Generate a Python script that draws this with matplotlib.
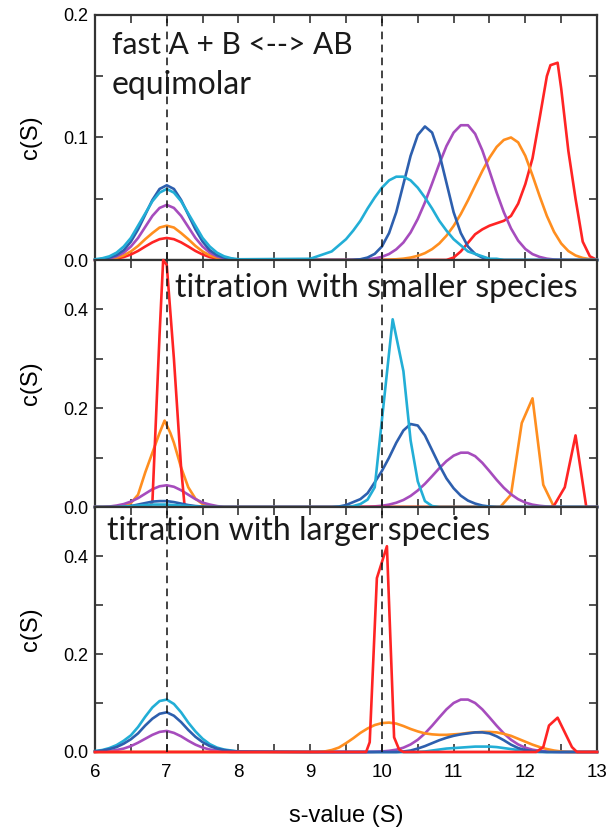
"""c(S) distributions: fast A + B <--> AB, equimolar and titration series."""

import matplotlib.pyplot as plt
from matplotlib.ticker import FormatStrFormatter, MultipleLocator

OUT_PATH = "out.png"

# s-value sampling (S)
S_LEFT = [6.0, 6.1, 6.2, 6.3, 6.4, 6.5, 6.6, 6.7, 6.8, 6.9, 7.0,
          7.1, 7.2, 7.3, 7.4, 7.5, 7.6, 7.7, 7.8, 7.9, 8.0]
S_RIGHT = [9.0, 9.1, 9.2, 9.3, 9.4, 9.5, 9.6, 9.7, 9.8, 9.9, 10.0,
           10.1, 10.2, 10.3, 10.4, 10.5, 10.6, 10.7, 10.8, 10.9, 11.0,
           11.1, 11.2, 11.3, 11.4, 11.5, 11.6, 11.7, 11.8, 11.9, 12.0,
           12.1, 12.2, 12.3, 12.4, 12.5, 12.6, 12.7, 12.8, 12.9, 13.0]

# --- panel 1: equimolar -------------------------------------------------
EQ_RED_LEFT = [0, 0.0002, 0.0005, 0.0012, 0.0024, 0.0045, 0.0074, 0.011, 0.0144, 0.017, 0.018,
               0.017, 0.0144, 0.011, 0.0074, 0.0045, 0.0024, 0.0012, 0.0005, 0.0002, 0]
EQ_RED_PEAK_S = [10.9, 11.0, 11.1, 11.2, 11.3, 11.4, 11.5, 11.6, 11.7, 11.8, 11.9, 12.0,
                 12.1, 12.2, 12.3, 12.35, 12.45, 12.5, 12.6, 12.7, 12.8, 12.9, 13.0]
EQ_RED_PEAK_C = [0, 0.002, 0.007, 0.014, 0.021, 0.025, 0.028, 0.030, 0.032, 0.036, 0.046, 0.062,
                 0.083, 0.116, 0.150, 0.159, 0.161, 0.140, 0.089, 0.050, 0.015, 0.003, 0]

EQ_ORANGE_LEFT = [0, 0.0003, 0.0008, 0.0018, 0.0038, 0.007, 0.0115, 0.017, 0.022, 0.0265, 0.028,
                  0.0265, 0.022, 0.017, 0.0115, 0.007, 0.0038, 0.0018, 0.0008, 0.0003, 0]
EQ_ORANGE_RIGHT = [0, 0, 0, 0, 0, 0, 0, 0, 0, 0, 0,
                   0.0003, 0.0006, 0.0011, 0.002, 0.0034, 0.0056, 0.0089, 0.0135, 0.0198, 0.0278,
                   0.0375, 0.0487, 0.0607, 0.0726, 0.0835, 0.0923, 0.098, 0.100, 0.096, 0.085,
                   0.069, 0.052, 0.036, 0.023, 0.0135, 0.0073, 0.0037, 0.0017, 0.0007, 0]

EQ_PURPLE_LEFT = [0, 0.0005, 0.0013, 0.003, 0.006, 0.011, 0.018, 0.027, 0.036, 0.0425, 0.045,
                  0.0425, 0.036, 0.027, 0.018, 0.011, 0.006, 0.003, 0.0013, 0.0005, 0]
AB_PURPLE_RIGHT = [0, 0, 0, 0, 0, 0, 0,
                   0.0003, 0.0006, 0.0013, 0.0026, 0.0049, 0.0087, 0.0143, 0.0225, 0.0335, 0.047,
                   0.0625, 0.0785, 0.093, 0.104, 0.110, 0.110, 0.103, 0.0895, 0.0726, 0.055,
                   0.039, 0.0258, 0.0158, 0.009, 0.0048, 0.0025, 0.0011, 0.0004, 0.0001, 0,
                   0, 0, 0, 0]

EQ_BLUE_LEFT = [0, 0.001, 0.002, 0.004, 0.008, 0.015, 0.025, 0.037, 0.049, 0.058, 0.061,
                0.058, 0.049, 0.037, 0.025, 0.015, 0.008, 0.004, 0.002, 0.001, 0]
EQ_BLUE_RIGHT = [0, 0, 0, 0, 0, 0, 0.0002, 0.0006, 0.002, 0.005, 0.011,
                 0.022, 0.039, 0.062, 0.085, 0.102, 0.109, 0.104, 0.087, 0.063, 0.039,
                 0.022, 0.011, 0.005, 0.002, 0.0006, 0.0002, 0, 0, 0, 0,
                 0, 0, 0, 0, 0, 0, 0, 0, 0, 0]

EQ_CYAN_LEFT = [0.0006, 0.0014, 0.003, 0.006, 0.011, 0.018, 0.028, 0.038, 0.048, 0.055, 0.058,
                0.055, 0.048, 0.038, 0.028, 0.018, 0.011, 0.006, 0.003, 0.0014, 0.0006]
EQ_CYAN_RIGHT = [0.001, 0.003, 0.005, 0.007, 0.012, 0.017, 0.024, 0.032, 0.042, 0.051, 0.059,
                 0.065, 0.068, 0.068, 0.065, 0.059, 0.051, 0.042, 0.032, 0.024, 0.017,
                 0.012, 0.007, 0.005, 0.003, 0.001, 0.001, 0, 0, 0, 0,
                 0, 0, 0, 0, 0, 0, 0, 0, 0, 0]

# --- panel 2: titration with smaller species ----------------------------
SM_ORANGE_S = [6.0, 6.3, 6.4, 6.5, 6.6, 6.7, 6.8, 6.9, 6.97, 7.05, 7.1, 7.2, 7.3, 7.4, 7.5,
               7.6, 7.7, 11.65, 11.8, 11.95, 12.1, 12.25, 12.4, 13.0]
SM_ORANGE_C = [0, 0, 0.002, 0.008, 0.025, 0.070, 0.110, 0.150, 0.175, 0.150, 0.130, 0.080, 0.040,
               0.017, 0.006, 0.002, 0, 0, 0.025, 0.170, 0.220, 0.045, 0, 0]

SM_PURPLE_LEFT = [0, 0, 0.001, 0.003, 0.006, 0.011, 0.018, 0.027, 0.036, 0.042, 0.044,
                  0.041, 0.034, 0.025, 0.016, 0.009, 0.005, 0.002, 0, 0, 0]

SM_RED_S = [6.0, 6.75, 6.8, 6.9, 6.95, 7.0, 7.1, 7.2, 7.25, 9.7, 10.7, 12.35, 12.4,
            12.55, 12.7, 12.85, 13.0]
SM_RED_C = [0, 0, 0.01, 0.35, 0.50, 0.49, 0.30, 0.08, 0, 0, 0, 0, 0.003,
            0.040, 0.145, 0, 0]

SM_BLUE_LEFT = [0, 0, 0, 0, 0, 0.002, 0.005, 0.008, 0.011, 0.012, 0.012,
                0.010, 0.007, 0.004, 0.002, 0.001, 0, 0, 0, 0, 0]
SM_BLUE_RIGHT = [0, 0, 0, 0, 0.001, 0.004, 0.010, 0.016, 0.028, 0.050, 0.073,
                 0.100, 0.130, 0.155, 0.168, 0.165, 0.145, 0.115, 0.085, 0.058, 0.038,
                 0.023, 0.013, 0.007, 0.003, 0.001, 0, 0, 0, 0, 0,
                 0, 0, 0, 0, 0, 0, 0, 0, 0, 0]

SM_CYAN_LEFT = [0, 0, 0, 0, 0.001, 0.002, 0.003, 0.004, 0.005, 0.005, 0.005,
                0.004, 0.003, 0.002, 0.001, 0, 0, 0, 0, 0, 0]
SM_CYAN_PEAK_S = [9.5, 9.6, 9.7, 9.8, 9.9, 10.15, 10.3, 10.4, 10.5, 10.6, 10.7, 10.8, 13.0]
SM_CYAN_PEAK_C = [0, 0.002, 0.006, 0.015, 0.040, 0.380, 0.275, 0.135, 0.052, 0.012, 0.002, 0, 0]

# --- panel 3: titration with larger species -----------------------------
LG_CYAN_LEFT = [0.002, 0.004, 0.008, 0.014, 0.023, 0.034, 0.051, 0.072, 0.091, 0.104, 0.107,
                0.098, 0.081, 0.060, 0.042, 0.027, 0.016, 0.009, 0.005, 0.003, 0.001]
LG_CYAN_RIGHT = [0, 0, 0, 0, 0, 0, 0, 0, 0, 0, 0,
                 0, 0, 0, 0, 0, 0.001, 0.003, 0.005, 0.007, 0.008,
                 0.009, 0.010, 0.011, 0.011, 0.011, 0.010, 0.008, 0.006, 0.004, 0.002,
                 0.001, 0, 0, 0, 0, 0, 0, 0, 0, 0]

LG_PURPLE_LEFT = [0, 0.001, 0.002, 0.004, 0.007, 0.012, 0.019, 0.027, 0.035, 0.041, 0.043,
                  0.039, 0.032, 0.023, 0.015, 0.009, 0.005, 0.003, 0.001, 0, 0]
LG_PURPLE_RIGHT = [0, 0, 0, 0, 0, 0, 0, 0, 0, 0.0004, 0.0011,
                   0.0024, 0.0047, 0.0088, 0.0154, 0.025, 0.0379, 0.0536, 0.0706, 0.087, 0.100,
                   0.107, 0.107, 0.100, 0.087, 0.0706, 0.0536, 0.0379, 0.025, 0.0154, 0.0088,
                   0.0047, 0.0024, 0.0011, 0.0004, 0, 0, 0, 0, 0, 0]

LG_ORANGE_RIGHT = [0, 0, 0.001, 0.004, 0.009, 0.018, 0.028, 0.039, 0.048, 0.055, 0.059,
                   0.060, 0.058, 0.053, 0.047, 0.042, 0.038, 0.036, 0.035, 0.035, 0.036,
                   0.037, 0.039, 0.040, 0.041, 0.041, 0.040, 0.037, 0.033, 0.027, 0.021,
                   0.015, 0.010, 0.006, 0.003, 0.001, 0, 0, 0, 0, 0]

LG_BLUE_LEFT = [0.001, 0.003, 0.006, 0.010, 0.017, 0.026, 0.038, 0.054, 0.068, 0.078, 0.081,
                0.074, 0.061, 0.045, 0.031, 0.020, 0.012, 0.007, 0.004, 0.002, 0.001]
LG_BLUE_RIGHT = [0, 0, 0, 0, 0, 0, 0, 0, 0, 0, 0,
                 0, 0, 0.001, 0.003, 0.007, 0.012, 0.018, 0.024, 0.029, 0.033,
                 0.036, 0.038, 0.040, 0.040, 0.038, 0.032, 0.024, 0.015, 0.008, 0.004,
                 0.002, 0.001, 0, 0, 0, 0, 0, 0, 0, 0]

LG_RED_S = [6.0, 9.78, 9.83, 9.93, 10.07, 10.17, 10.24, 10.3, 12.15, 12.25, 12.33,
            12.45, 12.55, 12.65, 12.72, 13.0]
LG_RED_C = [0, 0, 0.02, 0.355, 0.42, 0.03, 0.005, 0, 0, 0.01, 0.054,
            0.07, 0.04, 0.01, 0, 0]

ZERO_LEFT = [0, 0, 0, 0, 0, 0, 0, 0, 0, 0, 0, 0, 0, 0, 0, 0, 0, 0, 0, 0, 0]

PANEL_LABELS = [["fast A + B <--> AB", "equimolar"],
                ["titration with smaller species"],
                ["titration with larger species"]]
REFERENCE_S = [7.0, 10.0]

RED = "#ff2424"
ORANGE = "#ff8e1f"
PURPLE = "#a64cbd"
BLUE = "#2d5fae"
CYAN = "#22aed6"


def main() -> None:
    panels = [
        # (curves in drawing order, y max, major step, minor step)
        ([
            (S_LEFT + EQ_RED_PEAK_S, EQ_RED_LEFT + EQ_RED_PEAK_C, RED),
            (S_LEFT + S_RIGHT, EQ_ORANGE_LEFT + EQ_ORANGE_RIGHT, ORANGE),
            (S_LEFT + S_RIGHT, EQ_PURPLE_LEFT + AB_PURPLE_RIGHT, PURPLE),
            (S_LEFT + S_RIGHT, EQ_BLUE_LEFT + EQ_BLUE_RIGHT, BLUE),
            (S_LEFT + S_RIGHT, EQ_CYAN_LEFT + EQ_CYAN_RIGHT, CYAN),
        ], 0.2, 0.1, 0.05),
        ([
            (SM_ORANGE_S, SM_ORANGE_C, ORANGE),
            (S_LEFT + S_RIGHT, SM_PURPLE_LEFT + AB_PURPLE_RIGHT, PURPLE),
            (SM_RED_S, SM_RED_C, RED),
            (S_LEFT + S_RIGHT, SM_BLUE_LEFT + SM_BLUE_RIGHT, BLUE),
            (S_LEFT + SM_CYAN_PEAK_S, SM_CYAN_LEFT + SM_CYAN_PEAK_C, CYAN),
        ], 0.5, 0.2, 0.1),
        ([
            (S_LEFT + S_RIGHT, LG_CYAN_LEFT + LG_CYAN_RIGHT, CYAN),
            (S_LEFT + S_RIGHT, LG_PURPLE_LEFT + LG_PURPLE_RIGHT, PURPLE),
            (S_LEFT + S_RIGHT, ZERO_LEFT + LG_ORANGE_RIGHT, ORANGE),
            (S_LEFT + S_RIGHT, LG_BLUE_LEFT + LG_BLUE_RIGHT, BLUE),
            (LG_RED_S, LG_RED_C, RED),
        ], 0.5, 0.2, 0.1),
    ]
    boxes = [
        (0.1563, 0.6856, 0.8257, 0.2963),
        (0.1563, 0.3869, 0.8257, 0.2987),
        (0.1563, 0.0907, 0.8257, 0.2962),
    ]
    # (x, y, fontsize) of each panel caption line, axes fraction
    label_pos = [[(0.034, 0.878, 21.5), (0.034, 0.714, 23)],
                 [(0.160, 0.886, 23)],
                 [(0.024, 0.902, 23)]]

    plt.rcParams["font.family"] = ["Liberation Sans", "DejaVu Sans"]
    fig = plt.figure(figsize=(6.08, 8.27), dpi=100)

    for i, ((curves, ymax, major, minor), box) in enumerate(zip(panels, boxes)):
        ax = fig.add_axes(box)
        for s, c, color in curves:
            ax.plot(s, c, color=color, linewidth=1.9, clip_on=False, zorder=3,
                    solid_joinstyle="round")
        for s0 in REFERENCE_S:
            ax.axvline(s0, color="#111111", linewidth=1.1, linestyle=(0, (5, 3.5)), zorder=4)

        ax.set_xlim(6, 13)
        ax.set_ylim(0, ymax)
        ax.xaxis.set_major_locator(MultipleLocator(1))
        ax.xaxis.set_minor_locator(MultipleLocator(0.5))
        ax.yaxis.set_major_locator(MultipleLocator(major))
        ax.yaxis.set_minor_locator(MultipleLocator(minor))
        ax.yaxis.set_major_formatter(FormatStrFormatter("%.1f"))
        ax.tick_params(which="both", direction="in", top=True, right=True,
                       length=6, width=1.2, color="#333333")
        ax.tick_params(axis="y", labelsize=13, pad=5)
        ax.tick_params(axis="x", labelsize=13.5, pad=9)
        for spine in ax.spines.values():
            spine.set_linewidth(1.6)
            spine.set_color("#333333")

        ax.set_ylabel("c(S)", fontsize=17)
        ax.yaxis.set_label_coords(-0.105, 0.5)
        if i < 2:
            ax.tick_params(axis="x", labelbottom=False)
        else:
            ax.set_xlabel("s-value (S)", fontsize=17)
            ax.xaxis.set_label_coords(0.5, -0.215)

        for text, (tx, ty, size) in zip(PANEL_LABELS[i], label_pos[i]):
            ax.text(tx, ty, text, transform=ax.transAxes, ha="left", va="center",
                    fontsize=size, family=["Lato", "DejaVu Sans"], color="#1a1a1a", zorder=5)

    fig.savefig(OUT_PATH, dpi=100)
    plt.close(fig)


if __name__ == "__main__":
    main()
